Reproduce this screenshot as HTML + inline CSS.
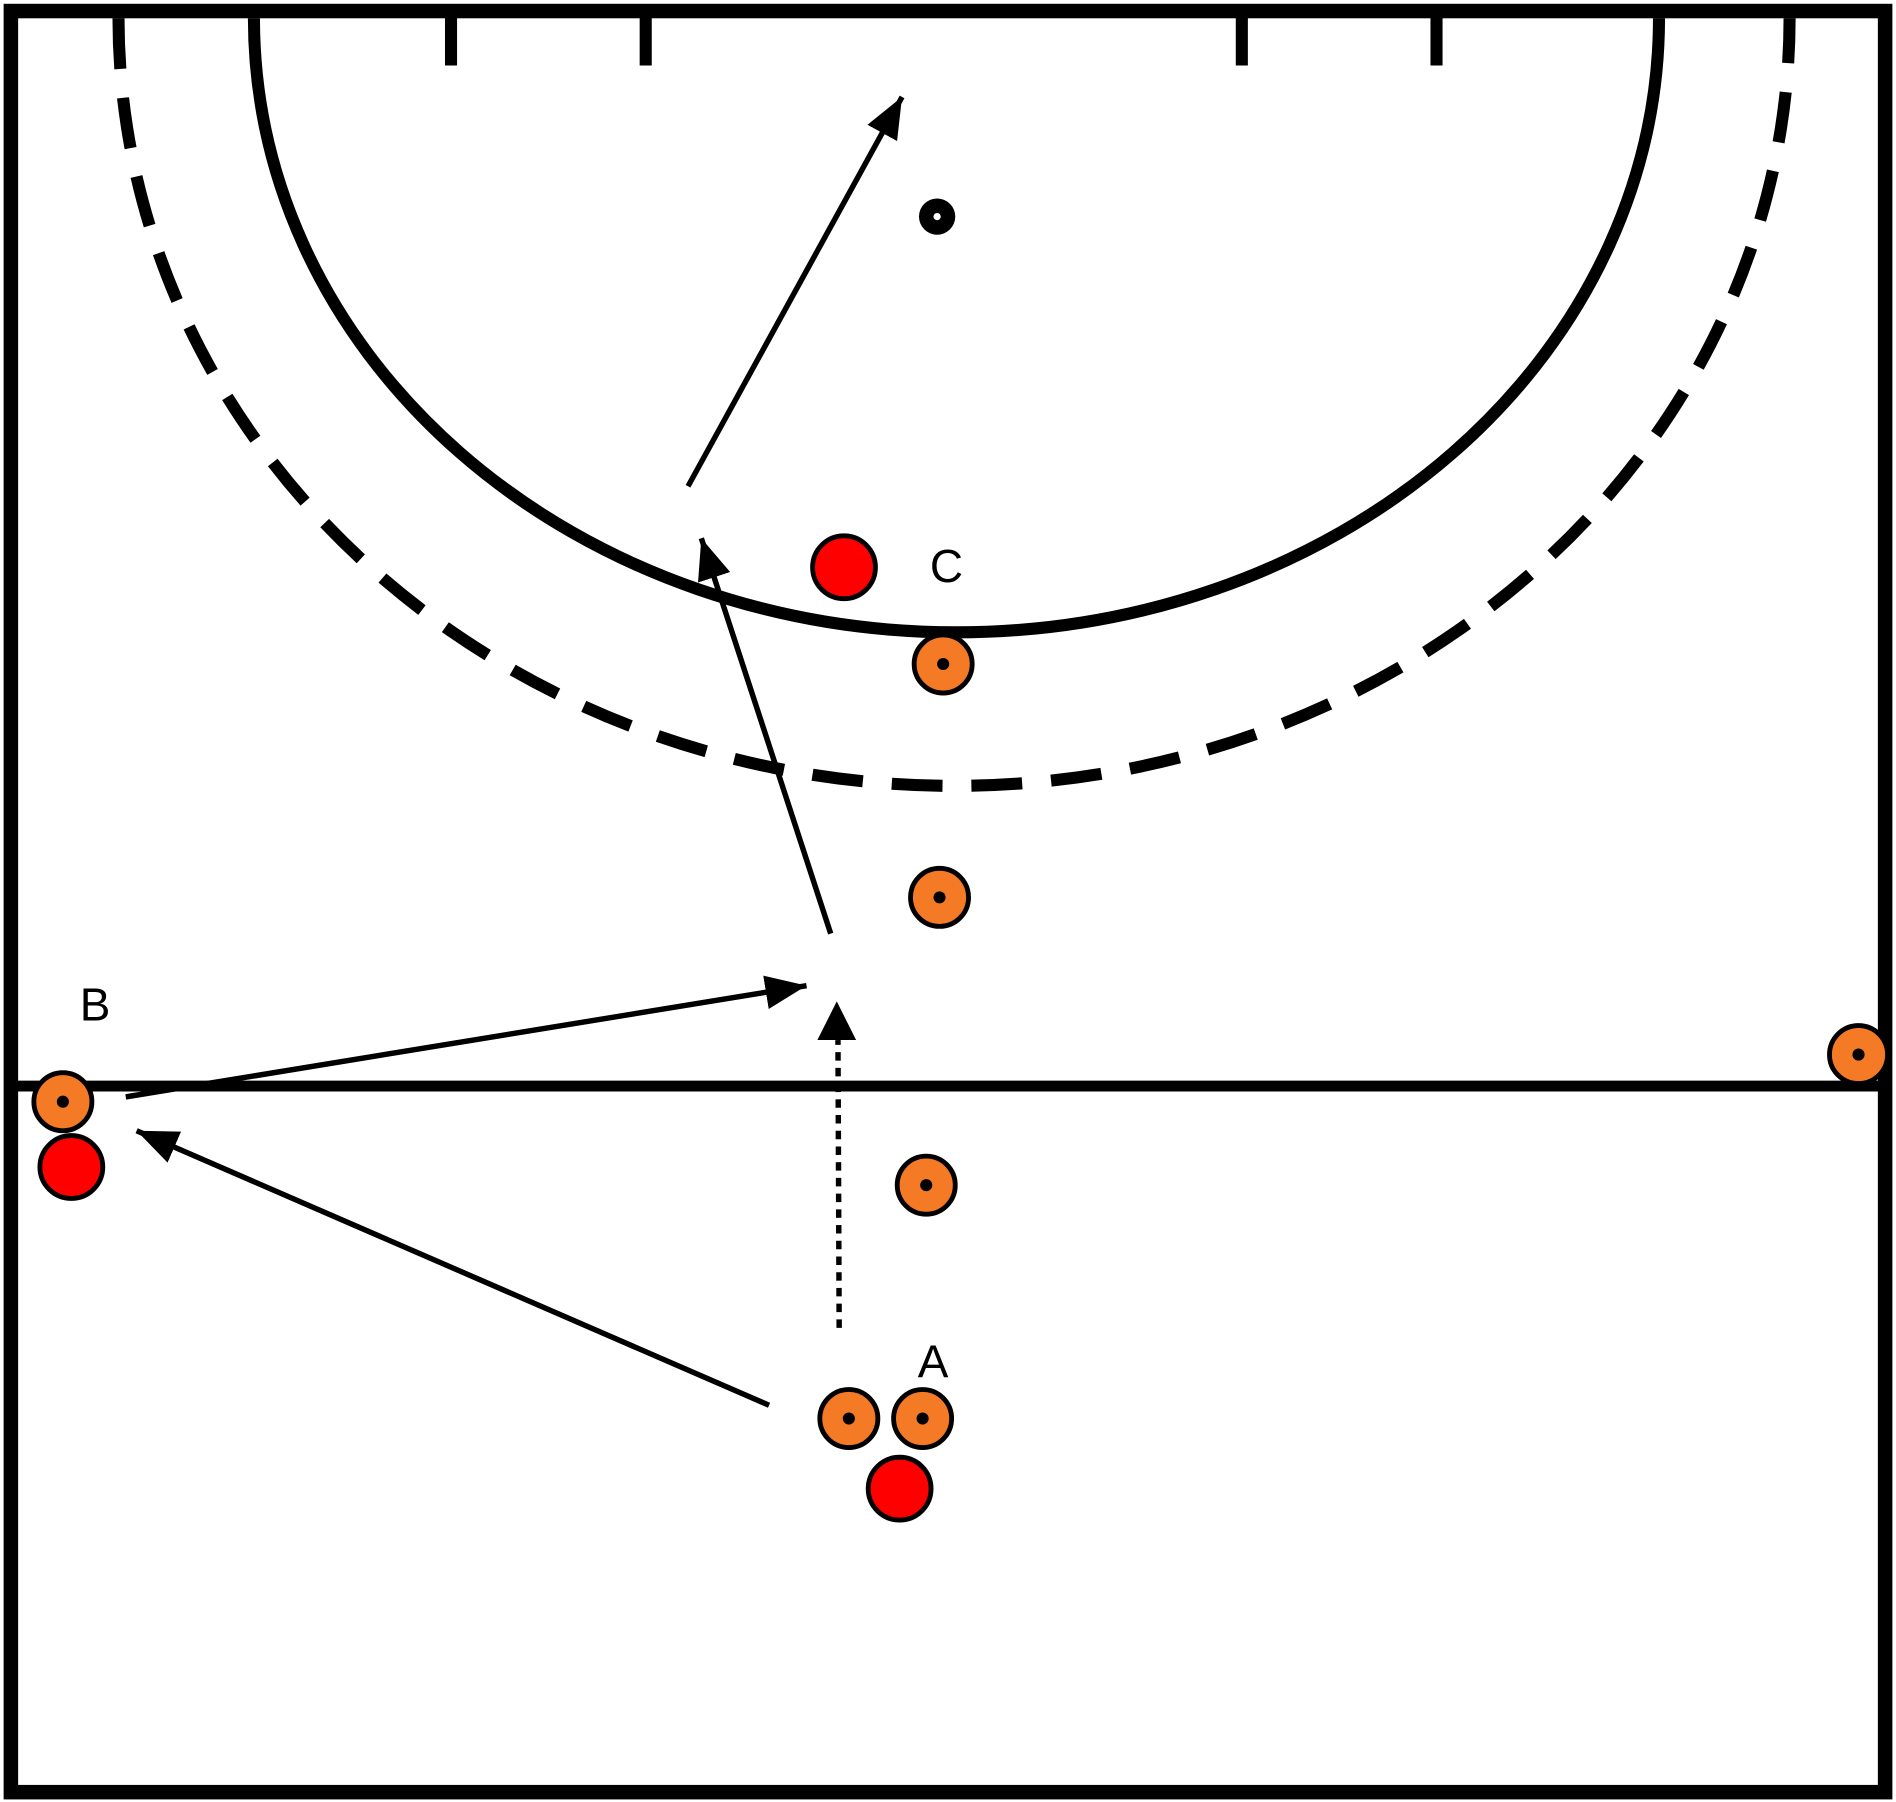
<!DOCTYPE html>
<html><head><style>html,body{margin:0;padding:0;background:#fff}svg{display:block}</style></head><body>
<svg width="1896" height="1802" viewBox="0 0 1568 1490" xmlns="http://www.w3.org/2000/svg">
<defs>
<marker id="ah" markerWidth="34" markerHeight="28" refX="10" refY="5" orient="auto" markerUnits="userSpaceOnUse" viewBox="0 0 10 10" preserveAspectRatio="none">
<path d="M0,0 L10,5 L0,10 z" fill="#000"/>
</marker>
</defs>
<rect x="0" y="0" width="1568" height="1490" fill="#fff"/>
<rect x="9" y="9" width="1550" height="1473" fill="none" stroke="#000" stroke-width="12"/>
<line x1="9" y1="898" x2="1559" y2="898" stroke="#000" stroke-width="9"/>
<path d="M210,15 A581,508 0 0 0 1372,15" fill="none" stroke="#000" stroke-width="10"/>
<path d="M98,15 A691,635 0 0 0 1480,15" fill="none" stroke="#000" stroke-width="10" stroke-dasharray="42,24"/>
<g stroke="#000" stroke-width="10">
<line x1="373" y1="14" x2="373" y2="54"/><line x1="534" y1="14" x2="534" y2="54"/>
<line x1="1027" y1="14" x2="1027" y2="54"/><line x1="1188" y1="14" x2="1188" y2="54"/>
</g>
<circle cx="775" cy="179" r="15" fill="#000"/><circle cx="775" cy="179" r="3" fill="#fff"/>
<g stroke="#000" stroke-width="4.5" fill="none">
<line x1="569" y1="402" x2="746" y2="80" marker-end="url(#ah)"/>
<line x1="687" y1="772" x2="580" y2="445" marker-end="url(#ah)"/>
<line x1="104" y1="907" x2="667" y2="815" marker-end="url(#ah)"/>
<line x1="636" y1="1162" x2="113" y2="935" marker-end="url(#ah)"/>
<line x1="694" y1="1098" x2="693" y2="860" stroke-dasharray="7,6"/>
</g>
<polygon points="692,828 676,860 708,860" fill="#000"/>
<g fill="#f47a26" stroke="#000" stroke-width="4">
<circle cx="780" cy="549" r="24"/><circle cx="777" cy="742" r="24"/><circle cx="1537" cy="872" r="24"/>
<circle cx="52" cy="911" r="24"/><circle cx="766" cy="980" r="24"/><circle cx="702" cy="1173" r="24"/><circle cx="763" cy="1173" r="24"/>
</g>
<g fill="#000">
<circle cx="780" cy="549" r="5"/><circle cx="777" cy="742" r="5"/><circle cx="1537" cy="872" r="5"/>
<circle cx="52" cy="911" r="5"/><circle cx="766" cy="980" r="5"/><circle cx="702" cy="1173" r="5"/><circle cx="763" cy="1173" r="5"/>
</g>
<g fill="#f00" stroke="#000" stroke-width="4">
<circle cx="698" cy="469" r="26"/><circle cx="59" cy="965" r="26"/><circle cx="744" cy="1231" r="26"/>
</g>
<g font-family="Liberation Sans, sans-serif" font-size="38" fill="#000">
<text x="769" y="481">C</text><text x="66" y="844">B</text><text x="759" y="1139">A</text>
</g>
</svg>
</body></html>
